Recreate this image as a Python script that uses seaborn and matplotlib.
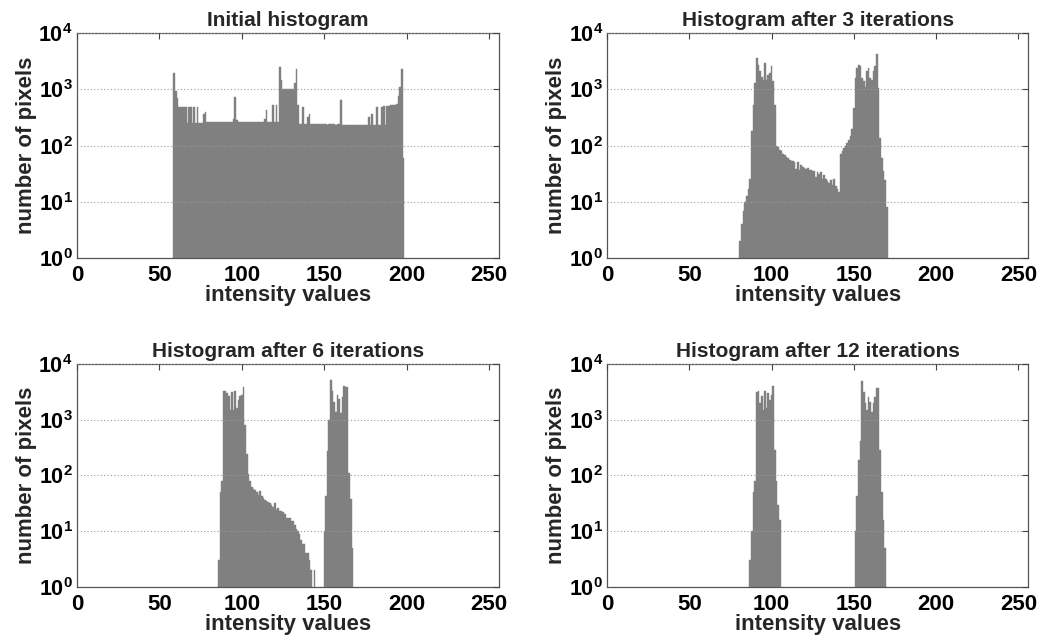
import numpy as np
import pandas as pd
import seaborn as sns
import matplotlib.pyplot as plt

# ---------------- data (counts per intensity value) ----------------
initial_start = 59
initial_counts = [
    2000, 950, 700, 480, 485, 480, 478, 482, 255, 480,
    480, 255, 480, 255, 480, 255, 258, 256, 360, 400,
    262, 260, 261, 259, 260, 262, 261, 260, 259, 261,
    260, 262, 261, 260, 259, 261, 300, 720, 290, 262,
    261, 260, 259, 260, 261, 262, 260, 259, 261, 260,
    259, 261, 260, 262, 260, 300, 430, 262, 260, 259,
    530, 260, 540, 262, 2500, 1500, 1000, 1010, 1000, 1005,
    1000, 1010, 1000, 1300, 2300, 540, 242, 240, 480, 241,
    240, 330, 370, 242, 240, 241, 239, 240, 242, 240,
    239, 241, 240, 238, 240, 239, 241, 240, 238, 240,
    239, 650, 236, 235, 237, 234, 236, 235, 234, 236,
    235, 233, 236, 234, 235, 236, 234, 235, 330, 238,
    370, 236, 237, 480, 238, 237, 490, 500, 238, 500,
    500, 520, 530, 530, 540, 560, 760, 1100, 2300, 60,
]

iter3_start = 81
iter3_counts = [
    2, 4, 7, 10, 13, 17, 26, 180, 530, 1300,
    3700, 2700, 2100, 1700, 1500, 3000, 1500, 1800, 2000, 2600,
    1400, 530, 100, 95, 85, 80, 72, 68, 64, 60,
    55, 54, 53, 52, 38, 52, 37, 45, 42, 40,
    38, 40, 37, 37, 35, 36, 28, 34, 31, 34,
    26, 30, 26, 24, 22, 25, 20, 26, 19, 17,
    15, 70, 80, 90, 100, 110, 125, 150, 200, 460,
    1600, 2400, 2700, 2600, 1600, 1400, 1100, 2100, 2400, 1600,
    1500, 2100, 2600, 4300, 1050, 135, 60, 35, 25, 8,
]

iter6_start = 86
iter6_counts = [
    3, 50, 80, 3300, 3300, 3000, 2700, 1500, 3100, 1500,
    3300, 1600, 2300, 2700, 2800, 3900, 820, 240, 105, 78,
    63, 57, 55, 50, 44, 52, 42, 40, 37, 35,
    33, 32, 30, 27, 32, 24, 26, 23, 23, 22,
    20, 17, 17, 17, 15, 15, 13, 11, 10, 9,
    7, 6, 6, 4, 4, 3, 2, 0, 2, 0,
    0, 0, 0, 0, 10, 42, 270, 1000, 5200, 3300,
    2100, 1400, 2800, 2400, 1300, 2600, 4100, 3900, 3900, 110,
    38, 5,
]

iter12_left_start = 87
iter12_left_counts = [3, 10, 50, 78, 3200, 3300, 2000, 2700, 1500, 3300,
                      1600, 3000, 2300, 2800, 4100, 290, 80, 30, 16]
iter12_right_start = 151
iter12_right_counts = [10, 42, 190, 420, 5000, 3200, 2000, 1500, 2600, 2100,
                       1400, 2000, 2600, 3700, 3700, 290, 50, 16, 5]

titles = ["Initial histogram", "Histogram after 3 iterations",
          "Histogram after 6 iterations", "Histogram after 12 iterations"]
x_ticks = [0, 50, 100, 150, 200, 250]
y_ticks = [1, 10, 100, 1000, 10000]
y_tick_labels = [r"$\mathbf{10^{0}}$", r"$\mathbf{10^{1}}$", r"$\mathbf{10^{2}}$",
                 r"$\mathbf{10^{3}}$", r"$\mathbf{10^{4}}$"]


def frame(start, counts):
    return pd.DataFrame({"intensity": np.arange(start, start + len(counts)),
                         "count": counts})


panels = [
    frame(initial_start, initial_counts),
    frame(iter3_start, iter3_counts),
    frame(iter6_start, iter6_counts),
    pd.concat([frame(iter12_left_start, iter12_left_counts),
               frame(iter12_right_start, iter12_right_counts)], ignore_index=True),
]

# ---------------- style ----------------
sns.set_theme(style="white")
plt.rcParams["font.family"] = ["Liberation Sans", "DejaVu Sans"]
plt.rcParams["font.weight"] = "bold"
plt.rcParams["mathtext.fontset"] = "custom"
plt.rcParams["mathtext.rm"] = "Liberation Sans:bold"
plt.rcParams["mathtext.bf"] = "Liberation Sans:bold"
plt.rcParams["mathtext.it"] = "Liberation Sans:bold"

fig = plt.figure(figsize=(10.4, 6.39), dpi=100)
positions = [
    [0.074, 0.596, 0.406, 0.352],
    [0.5837, 0.596, 0.405, 0.352],
    [0.074, 0.0814, 0.406, 0.349],
    [0.5837, 0.0814, 0.405, 0.349],
]

bar_color = "#808080"
for pos, df, title in zip(positions, panels, titles):
    ax = fig.add_axes(pos)
    sns.histplot(data=df, x="intensity", weights="count", discrete=True, ax=ax,
                 color=bar_color, alpha=1, edgecolor=bar_color, linewidth=0.3,
                 legend=False)
    ax.set_yscale("log")
    ax.set_ylim(1, 10000)
    ax.set_xlim(0, 256)
    ax.set_xticks(x_ticks)
    ax.set_xticklabels([str(t) for t in x_ticks])
    ax.set_yticks(y_ticks)
    ax.set_yticklabels(y_tick_labels)
    ax.minorticks_off()
    ax.tick_params(axis="both", which="major", direction="in", length=4,
                   width=0.8, color="#444444", top=True, right=True,
                   labelsize=16, labelcolor="black")
    ax.tick_params(axis="x", pad=5)
    ax.tick_params(axis="y", pad=3, labelsize=15.5)
    ax.yaxis.grid(True, which="major", linestyle=(0, (1, 2)), color="#9a9a9a",
                  linewidth=0.8)
    ax.xaxis.grid(False)
    ax.set_axisbelow(False)
    for sp in ax.spines.values():
        sp.set_color("#555555")
        sp.set_linewidth(0.9)
    ax.set_title(title, fontsize=15, fontweight="bold", pad=5)
    ax.set_xlabel("intensity values", fontsize=16, fontweight="bold", labelpad=-1)
    ax.set_ylabel("number of pixels", fontsize=16, fontweight="bold", labelpad=1)

fig.savefig("out.png", dpi=100)
